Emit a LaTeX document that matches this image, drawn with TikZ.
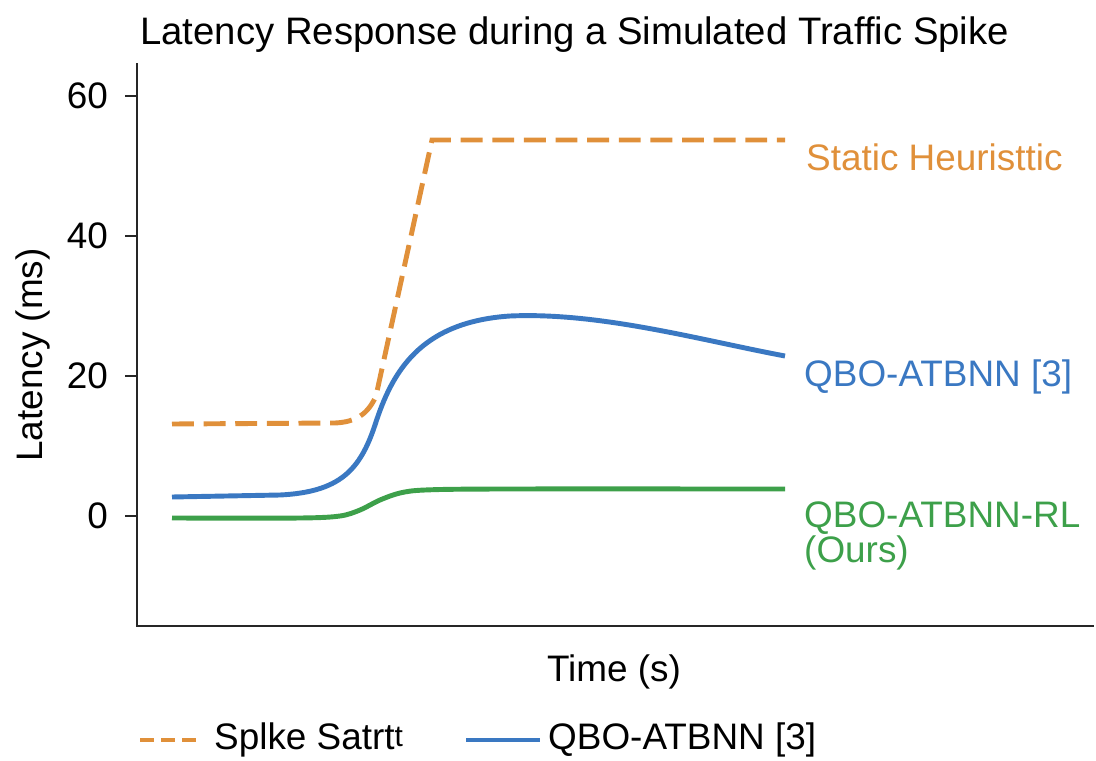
\documentclass[tikz,border=0pt]{standalone}
\usepackage{fontspec}
\setmainfont{Liberation Sans}
\definecolor{heurorange}{HTML}{E0903A}
\definecolor{qboblue}{HTML}{3A78C2}
\definecolor{rlgreen}{HTML}{3DA04A}
\tikzset{
  lbl/.style={font=\fontsize{21}{20}\selectfont},
  axisline/.style={line width=1.2pt, black!85},
  heur/.style={heurorange, line width=2.8pt, dash pattern=on 12.5pt off 5.5pt},
  qbo/.style={qboblue, line width=2.8pt},
  rl/.style={rlgreen, line width=2.8pt},
}
\begin{document}
\begin{tikzpicture}[x=0.02cm,y=-0.02cm]
  \useasboundingbox (0,0) rectangle (1096,761);
  \node[lbl, font=\fontsize{21.8}{20}\selectfont, anchor=base west, inner sep=0pt] (title) at (140,44) {Latency Response during a Simulated Traffic Spike};

  % axes and ticks
  \draw[axisline] (137,63) -- (137,626) -- (1094,626);
  \foreach \v/\py in {60/96,40/236,20/376,0/516}{
    \draw[axisline] (125,\py) -- (137,\py);
    \node[lbl, anchor=east] (tick\v) at (114,\py) {\v};
  }
  \node[lbl, rotate=90] (ylabel) at (33,355) {Latency (ms)};
  \node[lbl] (xlabel) at (614,672) {Time (s)};

  % curves
  \draw[heur] (172,424) -- (335,423) .. controls (356,422) and (368,414) .. (376,396) -- (432,140) -- (785,140);
  \draw[qbo] (172,497) -- (280,495) .. controls (340,492) and (360,470) .. (375,425)
    .. controls (392,372) and (420,322) .. (510,316) .. controls (600,312) and (700,340) .. (785,356);
  \draw[rl] plot[smooth] coordinates {(172,518) (300,518) (340,516) (360,510) (380,500) (400,493) (425,490) (500,489) (785,489)};

  \node[lbl, heurorange, anchor=west] (heurlbl) at (800,157) {Static Heuristtic};
  \node[lbl, qboblue, anchor=west] (qbolbl) at (798,377) {QBO-ATBNN [3]};
  \node[lbl, rlgreen, anchor=west, align=left] (rllbl) at (798,536) {QBO-ATBNN-RL\\(Ours)};

  % legend
  \draw[heur, line width=2.4pt, dash pattern=on 8pt off 4pt] (140,740) -- (202,740);
  \node[lbl, anchor=west] (spikelbl) at (208,740) {Splke Satrt\raisebox{1.5pt}{\fontsize{17}{17}\selectfont t}};
  \draw[qbo] (466,740) -- (540,740);
  \node[lbl, anchor=west] (qbolegend) at (542,740) {QBO-ATBNN [3]};
\end{tikzpicture}
\end{document}
